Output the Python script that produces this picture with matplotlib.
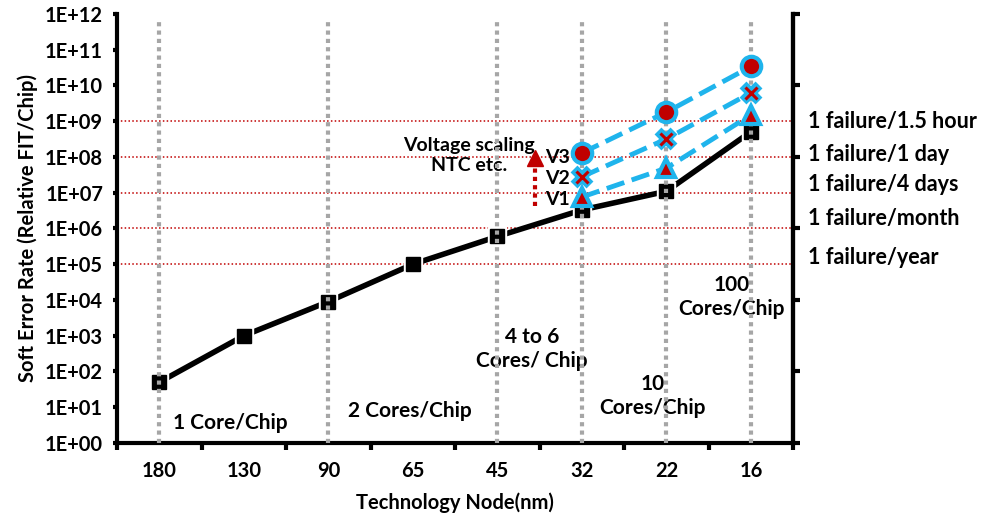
import numpy as np
import matplotlib
matplotlib.use("Agg")
import matplotlib.pyplot as plt

plt.rcParams['font.family'] = ['Lato', 'DejaVu Sans']
plt.rcParams['font.weight'] = 'bold'
plt.rcParams['axes.labelweight'] = 'bold'

# data
nodes = ["180", "130", "90", "65", "45", "32", "22", "16"]
ser = [50, 1000, 9000, 1.0e5, 6.0e5, 3.3e6, 1.1e7, 5.1e8]
scaled_nodes = ["32", "22", "16"]
v3 = [1.3e8, 1.8e9, 3.4e10]
v2 = [2.8e7, 3.2e8, 6.3e9]
v1 = [7.6e6, 4.9e7, 1.5e9]
grid_nodes = ["180", "90", "45", "32", "22", "16"]
fail_rates = [1e9, 1e8, 1e7, 1e6, 1e5]
fail_labels = ["1 failure/1.5 hour", "1 failure/1 day", "1 failure/4 days",
               "1 failure/month", "1 failure/year"]
fail_label_y = [1e9, 1.15e8, 1.75e7, 1.85e6, 1.5e5]

BLUE = "#1FB4EC"
RED = "#C00000"
GREY = "#A6A6A6"

fig = plt.figure(figsize=(9.83, 5.16), dpi=100)
ax = fig.add_axes([0.119, 0.1415, 0.688, 0.8314])

x = np.arange(len(nodes))
xs = [nodes.index(n) for n in scaled_nodes]

ax.set_yscale("log")
ax.set_ylim(1, 1e12)
ax.set_xlim(-0.5, len(nodes) - 0.5)

# red reference lines
for r in fail_rates:
    ax.axhline(r, color=RED, lw=1.1, ls=(0, (1, 1.5)), zorder=1)

# main series
ax.plot(x, ser, color="black", lw=4, zorder=2, solid_capstyle="butt")
ax.plot(x, ser, ls="none", marker="s", ms=13, mfc="white", mec="white", zorder=3)
ax.plot(x, ser, ls="none", marker="s", ms=10, mfc="black", mec="black", zorder=4)

# grey vertical dotted lines
gx = [nodes.index(n) for n in grid_nodes]
ax.vlines(gx, 1, 10**11.82, colors=GREY, lw=3, linestyles=(0, (1, 1)), zorder=5)

# voltage scaled series
for vals in (v3, v2, v1):
    ax.plot(xs, vals, color=BLUE, lw=3.5, ls=(0, (3.8, 1.6)), zorder=6)
ax.plot(xs, v3, ls="none", marker="o", ms=14, mfc=RED, mec=BLUE, mew=3, zorder=7)
ax.plot(xs, v2, ls="none", marker="x", ms=12, mec=BLUE, mew=7, zorder=7)
ax.plot(xs, v2, ls="none", marker="x", ms=9, mec=RED, mew=2.2, zorder=8)
ax.plot(xs, v1, ls="none", marker="^", ms=13, mfc=RED, mec=BLUE, mew=3, zorder=7)

# annotations
fs = 15
ax.text(0.84, 10**0.56, "1 Core/Chip", ha="center", va="center", fontsize=fs)
ax.text(2.97, 10**0.9, "2 Cores/Chip", ha="center", va="center", fontsize=fs)
ax.text(4.41, 10**2.63, "4 to 6\nCores/ Chip", ha="center", va="center", fontsize=fs, linespacing=1.25)
ax.text(5.84, 10**1.31, "10\nCores/Chip", ha="center", va="center", fontsize=fs, linespacing=1.25)
ax.text(6.77, 10**4.08, "100\nCores/Chip", ha="center", va="center", fontsize=fs, linespacing=1.25)
ax.text(3.66, 10**8.05, "Voltage scaling\nNTC etc.", ha="center", va="center", fontsize=14, linespacing=1.2)

ax.plot([4.447, 4.447], [10**6.62, 10**7.75], color=RED, lw=3, ls=(0, (1, 1)), zorder=6)
ax.plot([4.447], [10**7.98], marker="^", ms=12, color=RED, ls="none", zorder=6)
for lbl, yy in zip(["V3", "V2", "V1"], [10**7.98, 10**7.4, 10**6.82]):
    ax.text(4.56, yy, lbl, ha="left", va="center", fontsize=14)

for lbl, yy in zip(fail_labels, fail_label_y):
    ax.text(7.68, yy, lbl, ha="left", va="center", fontsize=15.5, clip_on=False)

# axes styling
ax.spines["top"].set_visible(False)
for s in ("left", "bottom", "right"):
    ax.spines[s].set_linewidth(3)

yt = [10.0 ** k for k in range(13)]
ax.set_yticks(yt)
ax.set_yticklabels(["1E+%02d" % k for k in range(13)], fontsize=14.5)
ax.yaxis.set_minor_locator(matplotlib.ticker.NullLocator())
ax.tick_params(axis="y", which="major", direction="out", length=3, width=3, pad=7)

ax.set_xticks(x)
ax.set_xticklabels(nodes, fontsize=14.5)
ax.set_xticks(np.arange(-0.5, len(nodes)), minor=True)
ax.tick_params(axis="x", which="major", length=0, pad=13)
ax.tick_params(axis="x", which="minor", direction="out", length=5, width=3)

ax.set_xlabel("Technology Node(nm)", fontsize=14.5, labelpad=8)
ax.set_ylabel("Soft Error Rate (Relative FIT/Chip)", fontsize=14.5, labelpad=5)

ax2 = ax.twinx()
ax2.set_yscale("log")
ax2.set_ylim(1, 1e12)
ax2.set_yticks([10.0 ** k for k in range(0, 13, 2)])
ax2.yaxis.set_minor_locator(matplotlib.ticker.NullLocator())
ax2.set_yticklabels([])
ax2.tick_params(axis="y", direction="out", length=5, width=3)
for s in ("top", "left", "bottom"):
    ax2.spines[s].set_visible(False)
ax2.spines["right"].set_linewidth(3)

fig.savefig("out.png", dpi=100)
